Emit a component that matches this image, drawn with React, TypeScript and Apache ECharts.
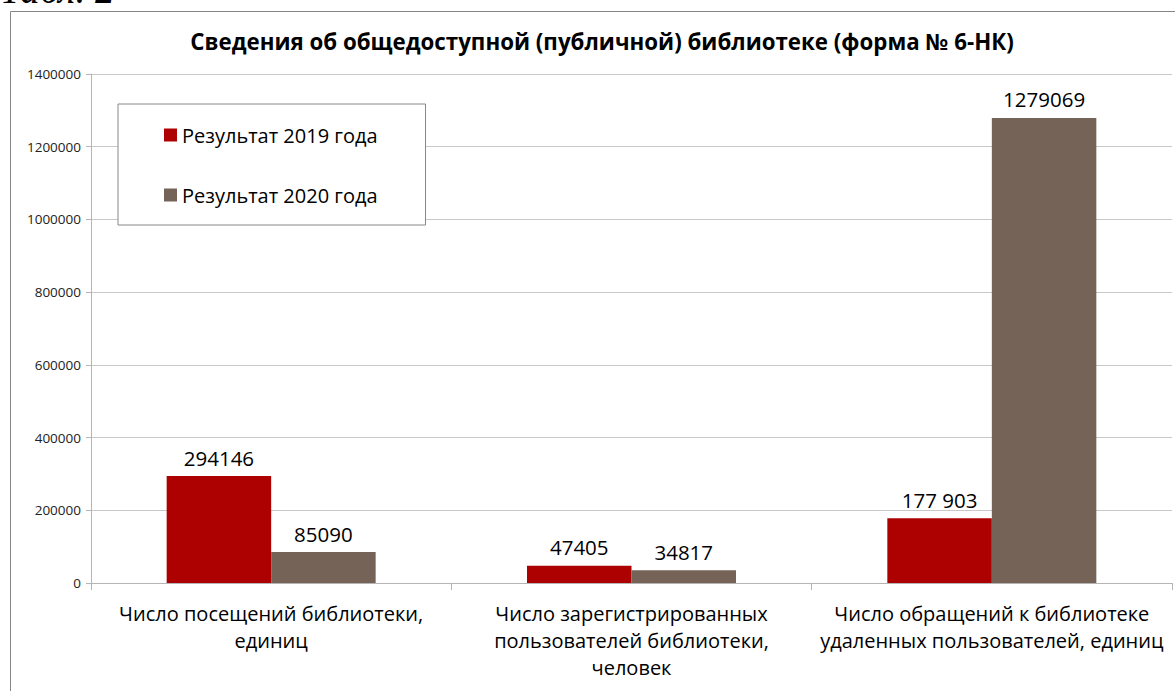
import React, { useEffect, useRef } from "react";
import * as echarts from "echarts";

const categories = [
  "Число посещений библиотеки,\nединиц",
  "Число зарегистрированных\nпользователей библиотеки,\nчеловек",
  "Число обращений к библиотеке\nудаленных пользователей, единиц",
];
const seriesNames = ["Результат 2019 года", "Результат 2020 года"];
const values2019 = [294146, 47405, 177903];
const values2020 = [85090, 34817, 1279069];
const labels2019 = ["294146", "47405", "177 903"];
const labels2020 = ["85090", "34817", "1279069"];
const yTicks = { min: 0, max: 1400000, interval: 200000 };

const FONT = "'Open Sans', 'Noto Sans', sans-serif";
const RED = "#ad0000";
const BROWN = "#756358";

export default function App() {
  const ref = useRef<HTMLDivElement>(null);
  useEffect(() => {
    if (!ref.current) return;
    const chart = echarts.init(ref.current, undefined, { renderer: "svg" });
    const labelStyle = (labels: string[]) => ({
      show: true,
      position: "top" as const,
      distance: 8,
      fontFamily: FONT,
      fontSize: 20.5,
      color: "#000",
      formatter: (p: any) => labels[p.dataIndex],
    });
    chart.setOption({
      animation: false,
      backgroundColor: "#fff",
      textStyle: { fontFamily: FONT },
      title: {
        text: "Сведения об общедоступной (публичной) библиотеке (форма № 6-НК)",
        left: 597,
        top: 25,
        textAlign: "center",
        textStyle: { fontFamily: FONT, fontSize: 22.3, fontWeight: "bold", color: "#000" },
      },
      graphic: [
        {
          type: "rect",
          shape: { x: 10.5, y: 11.5, width: 1300, height: 800 },
          style: { fill: "none", stroke: "#868686", lineWidth: 1 },
          silent: true,
          z: -1,
        },
        {
          type: "text",
          x: 0,
          y: -11,
          style: {
            text: "Табл. 2",
            font: "italic 39px 'Liberation Serif', serif",
            fill: "#000",
            verticalAlign: "middle",
          },
        },
      ],
      legend: {
        orient: "vertical",
        left: 118,
        top: 104,
        itemWidth: 13,
        itemHeight: 13,
        itemGap: 40,
        icon: "rect",
        padding: [21, 48, 20, 46],
        borderColor: "#888",
        borderWidth: 1,
        backgroundColor: "#fff",
        textStyle: { fontFamily: FONT, fontSize: 20, color: "#000", lineHeight: 20 },
        data: seriesNames,
        z: 10,
      },
      grid: { left: 91, right: 3, top: 74, bottom: 108, containLabel: false },
      xAxis: {
        type: "category",
        data: categories,
        axisLine: { lineStyle: { color: "#b5b5b5" } },
        axisTick: { show: true, length: 7, lineStyle: { color: "#b5b5b5" } },
        axisLabel: {
          interval: 0,
          margin: 17,
          fontFamily: FONT,
          fontSize: 20,
          lineHeight: 27,
          color: "#000",
          align: "center",
        },
        splitLine: { show: false },
      },
      yAxis: {
        type: "value",
        min: yTicks.min,
        max: yTicks.max,
        interval: yTicks.interval,
        axisLine: { show: true, lineStyle: { color: "#b5b5b5" } },
        axisTick: { show: true, length: 5, lineStyle: { color: "#b5b5b5" } },
        axisLabel: {
          fontFamily: FONT,
          fontSize: 13.5,
          color: "#222",
          margin: 10,
          formatter: (v: number) => String(v),
        },
        splitLine: { lineStyle: { color: "#c8c8c8" } },
      },
      series: [
        {
          name: seriesNames[0],
          type: "bar",
          data: values2019,
          itemStyle: { color: RED },
          barGap: "0%",
          barCategoryGap: "42%",
          label: labelStyle(labels2019),
        },
        {
          name: seriesNames[1],
          type: "bar",
          data: values2020,
          itemStyle: { color: BROWN },
          barGap: "0%",
          barCategoryGap: "42%",
          label: labelStyle(labels2020),
        },
      ],
    });
    return () => chart.dispose();
  }, []);
  return (
    <div
      ref={ref}
      style={{ position: "fixed", left: 0, top: 0, width: 1175, height: 691 }}
    />
  );
}
